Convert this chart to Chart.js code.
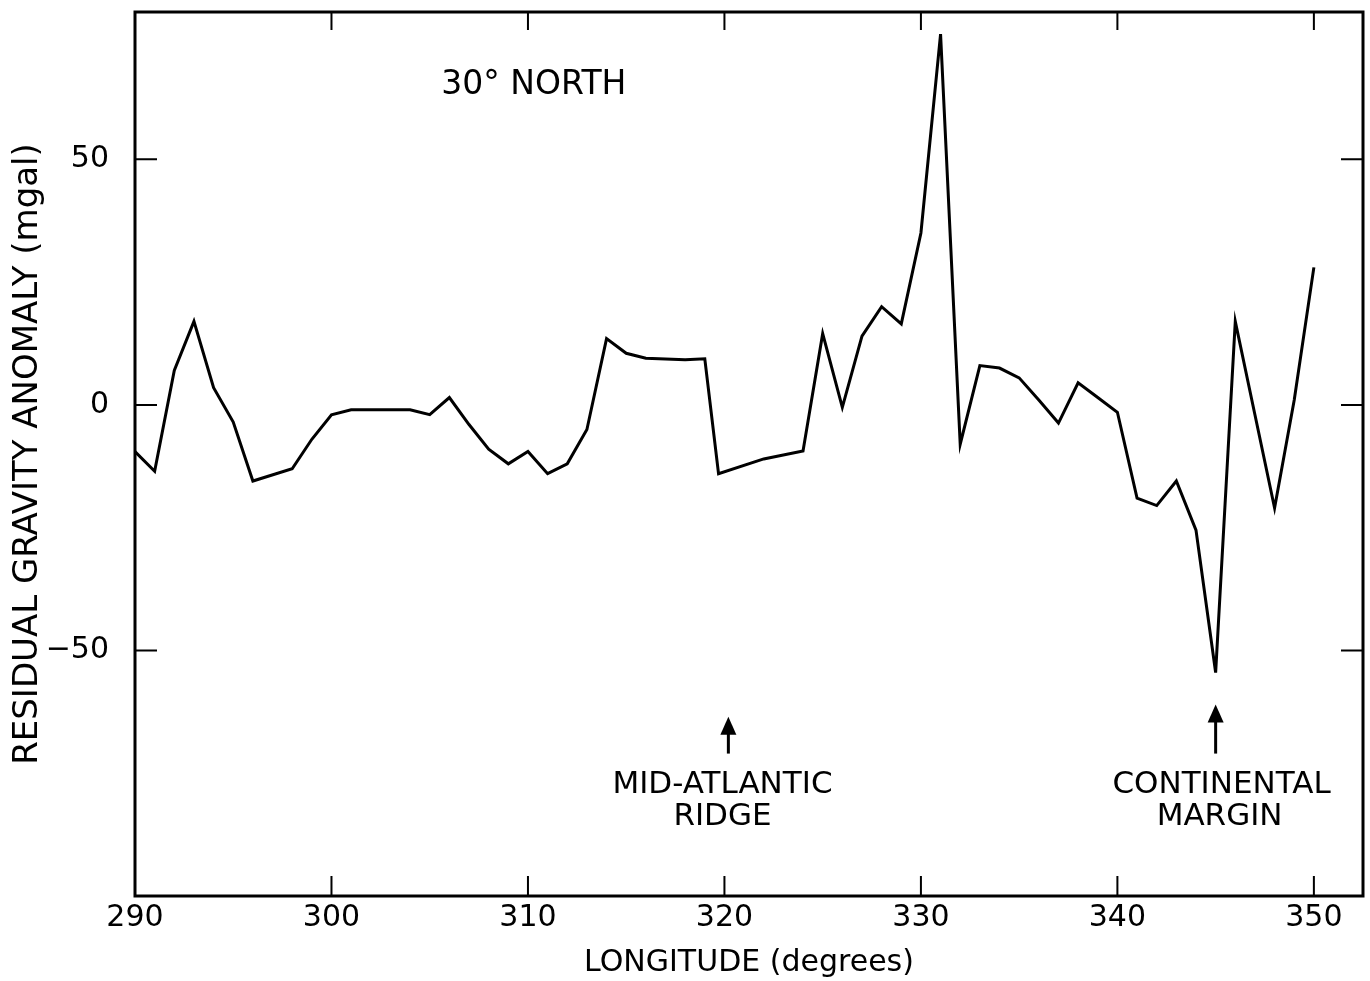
<!DOCTYPE html>
<html>
<head>
<meta charset="utf-8">
<script src="https://cdn.jsdelivr.net/npm/chart.js@4/dist/chart.umd.min.js"></script>
<style>
  html, body { margin: 0; padding: 0; background: #fff; }
  #wrap { width: 1370px; height: 981px; }
</style>
</head>
<body>
<div id="wrap"><canvas id="gravityChart"></canvas></div>
<script>
// longitude (degrees) and residual gravity anomaly (mgal)
const longitude = [290, 291, 292, 293, 294, 295, 296, 298, 299, 300, 301, 304, 305, 306, 307, 308, 309, 310,
  311, 312, 313, 314, 315, 316, 318, 319, 319.7, 322, 324, 325, 326, 327, 328, 329, 330, 331, 332, 333,
  334, 335, 336, 337, 338, 339, 340, 341, 342, 343, 344, 345, 346, 347, 348, 349, 350];
const anomaly = [-9.5, -13.5, 7, 17, 3.5, -3.5, -15.5, -13, -7, -2, -1, -1, -2, 1.5, -4, -9, -12, -9.5,
  -14, -12, -5, 13.5, 10.5, 9.5, 9.2, 9.4, -14, -11, -9.4, 14.5, -0.5, 14, 20, 16.5, 35, 75.5, -8, 8,
  7.5, 5.5, 1, -3.7, 4.5, 1.5, -1.5, -19, -20.5, -15.5, -25.5, -54.5, 17, -2, -21, 1, 28];

const xTicks = [290, 300, 310, 320, 330, 340, 350];
const yTicks = [-50, 0, 50];

const FONT = '"DejaVu Sans", sans-serif';

// labels and arrows placed in data units
const notes = [
  { text: '30° NORTH', lon: 310.3, val: 65, size: 33 },
  { text: 'MID-ATLANTIC', lon: 319.9, val: -77.3, size: 31 },
  { text: 'RIDGE', lon: 319.9, val: -84, size: 31 },
  { text: 'CONTINENTAL', lon: 345.3, val: -77.3, size: 31 },
  { text: 'MARGIN', lon: 345.2, val: -84, size: 31 }
];
const arrows = [
  { lon: 320.2, top: -63.5, bottom: -71 },
  { lon: 345, top: -61, bottom: -71 }
];

const framePlugin = {
  id: 'frame',
  afterDatasetsDraw(chart) {
    const { ctx, chartArea: a, scales: { x, y } } = chart;
    ctx.save();
    ctx.strokeStyle = '#000';
    ctx.lineWidth = 3;
    ctx.strokeRect(a.left, a.top, a.right - a.left, a.bottom - a.top);

    // inward ticks on all four sides
    ctx.lineWidth = 2;
    ctx.beginPath();
    xTicks.forEach(v => {
      const px = x.getPixelForValue(v);
      ctx.moveTo(px, a.bottom); ctx.lineTo(px, a.bottom - 20);
      ctx.moveTo(px, a.top); ctx.lineTo(px, a.top + 18);
    });
    yTicks.forEach(v => {
      const py = y.getPixelForValue(v);
      ctx.moveTo(a.left, py); ctx.lineTo(a.left + 22, py);
      ctx.moveTo(a.right, py); ctx.lineTo(a.right - 22, py);
    });
    ctx.stroke();

    ctx.fillStyle = '#000';
    ctx.textAlign = 'center';
    ctx.textBaseline = 'middle';
    notes.forEach(n => {
      ctx.font = n.size + 'px ' + FONT;
      ctx.fillText(n.text, x.getPixelForValue(n.lon), y.getPixelForValue(n.val));
    });

    arrows.forEach(ar => {
      const px = x.getPixelForValue(ar.lon);
      const ty = y.getPixelForValue(ar.top);
      const by = y.getPixelForValue(ar.bottom);
      ctx.lineWidth = 3;
      ctx.beginPath();
      ctx.moveTo(px, ty + 10); ctx.lineTo(px, by);
      ctx.stroke();
      ctx.beginPath();
      ctx.moveTo(px, ty);
      ctx.lineTo(px - 8, ty + 18);
      ctx.lineTo(px + 8, ty + 18);
      ctx.closePath();
      ctx.fill();
    });
    ctx.restore();
  }
};

new Chart(document.getElementById('gravityChart'), {
  type: 'line',
  data: {
    datasets: [{
      data: longitude.map((lon, i) => ({ x: lon, y: anomaly[i] })),
      borderColor: '#000',
      borderWidth: 3,
      pointRadius: 0,
      tension: 0,
      fill: false
    }]
  },
  options: {
    responsive: true,
    maintainAspectRatio: false,
    animation: false,
    layout: { padding: { top: 12, right: 7, left: 0, bottom: 0 } },
    plugins: { legend: { display: false }, tooltip: { enabled: false } },
    scales: {
      x: {
        type: 'linear',
        min: 290,
        max: 352.5,
        afterBuildTicks: s => { s.ticks = xTicks.map(v => ({ value: v })); },
        afterFit: s => { s.height = 85; s.paddingLeft = 0; s.paddingRight = 0; },
        grid: { display: false, drawTicks: false },
        border: { display: false },
        ticks: { color: '#000', padding: 4, maxRotation: 0, font: { family: FONT, size: 30 } },
        title: {
          display: true,
          text: 'LONGITUDE (degrees)',
          color: '#000',
          padding: { top: 6, bottom: 0 },
          font: { family: FONT, size: 30 }
        }
      },
      y: {
        min: -100,
        max: 80,
        afterBuildTicks: s => { s.ticks = yTicks.map(v => ({ value: v })); },
        afterFit: s => { s.width = 135; s.paddingTop = 0; s.paddingBottom = 0; },
        grid: { display: false, drawTicks: false },
        border: { display: false },
        ticks: {
          color: '#000',
          padding: 26,
          font: { family: FONT, size: 30 },
          callback: v => (v < 0 ? '\u2212' + Math.abs(v) : String(v))
        },
        title: {
          display: true,
          text: 'RESIDUAL GRAVITY ANOMALY (mgal)',
          color: '#000',
          padding: { top: 8, bottom: 0 },
          font: { family: FONT, size: 34 }
        }
      }
    }
  },
  plugins: [framePlugin]
});
</script>
</body>
</html>
